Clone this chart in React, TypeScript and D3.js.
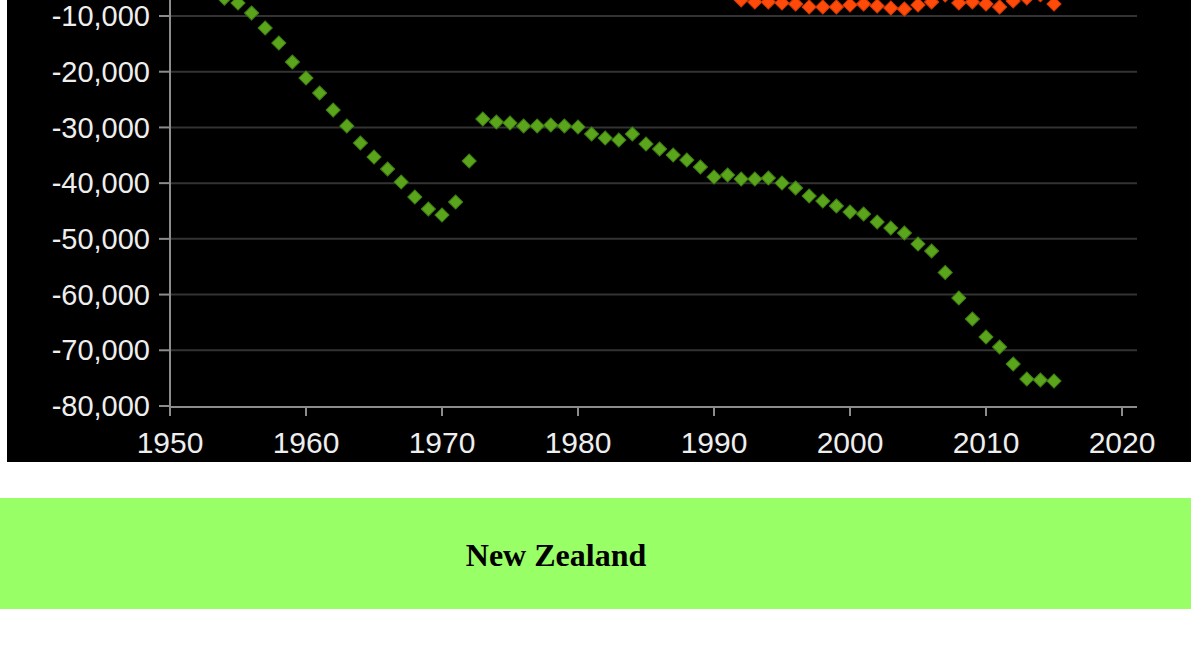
import React from "react";
import * as d3 from "d3";

const yTicks = [-10000, -20000, -30000, -40000, -50000, -60000, -70000, -80000];
const xTicks = [1950, 1960, 1970, 1980, 1990, 2000, 2010, 2020];

const greenYears = [
  1954, 1955, 1956, 1957, 1958, 1959, 1960, 1961, 1962, 1963, 1964, 1965, 1966, 1967, 1968, 1969,
  1970, 1971, 1972, 1973, 1974, 1975, 1976, 1977, 1978, 1979, 1980, 1981, 1982, 1983, 1984, 1985,
  1986, 1987, 1988, 1989, 1990, 1991, 1992, 1993, 1994, 1995, 1996, 1997, 1998, 1999, 2000, 2001,
  2002, 2003, 2004, 2005, 2006, 2007, 2008, 2009, 2010, 2011, 2012, 2013, 2014, 2015,
];
const greenValues = [
  -6800, -7670, -9460, -12150, -14850, -18260, -21130, -23820, -26870, -29740, -32800, -35310, -37460, -39800, -42490, -44640,
  -45720, -43390, -36030, -28490, -29030, -29210, -29740, -29740, -29560, -29740, -29920, -31180, -31900, -32260, -31180, -32980,
  -33870, -34950, -35850, -37100, -38900, -38540, -39260, -39260, -39080, -39980, -40870, -42310, -43210, -44110, -45180, -45540,
  -46980, -48050, -48950, -50930, -52180, -56030, -60620, -64390, -67620, -69410, -72470, -75160, -75340, -75520,
];

const orangeYears = [
  1992, 1993, 1994, 1995, 1996, 1997, 1998, 1999, 2000, 2001, 2002, 2003, 2004, 2005, 2006, 2007,
  2008, 2009, 2010, 2011, 2012, 2013, 2014, 2015,
];
const orangeValues = [
  -7130, -7490, -7490, -7670, -7850, -8380, -8380, -8380, -8030, -7850, -8210, -8560, -8740, -8030, -7490, -6230,
  -7670, -7490, -7850, -8380, -7310, -6770, -6200, -7850,
];

const title = "New Zealand";

export default function App() {
  const x = d3.scaleLinear().domain([1950, 2020]).range([170, 1122]);
  const y = d3.scaleLinear().domain([-80000, -10000]).range([406, 16]);
  const fmt = d3.format(",");
  const diamond = d3.symbol().type(d3.symbolSquare).size(100)() as string;

  const green = greenYears.map((yr, i) => ({ yr, v: greenValues[i] }));
  const orange = orangeYears.map((yr, i) => ({ yr, v: orangeValues[i] }));

  const labelFont = "'Liberation Sans', Arial, sans-serif";

  return (
    <svg
      width={1191}
      height={653}
      style={{ position: "absolute", left: 0, top: 0, display: "block" }}
    >
      <rect x={0} y={0} width={1191} height={653} fill="#ffffff" />
      <rect x={7} y={0} width={1184} height={462} fill="#000000" />

      {/* grid lines */}
      {yTicks
        .filter((t) => t !== -80000)
        .map((t) => (
          <line key={"g" + t} x1={170} x2={1137} y1={y(t)} y2={y(t)} stroke="#333333" strokeWidth={2} />
        ))}

      {/* y axis */}
      <line x1={170} x2={170} y1={0} y2={y(-80000) + 1} stroke="#8c8c8c" strokeWidth={2} />
      {yTicks.map((t) => (
        <g key={"yt" + t}>
          <line x1={159} x2={170} y1={y(t)} y2={y(t)} stroke="#8c8c8c" strokeWidth={2} />
          <text
            x={150}
            y={y(t)}
            dy="0.35em"
            textAnchor="end"
            fill="#eeeeee"
            fontFamily={labelFont}
            fontSize={29}
          >
            {fmt(t).replace("−", "-")}
          </text>
        </g>
      ))}

      {/* x axis */}
      <line x1={169} x2={1137} y1={y(-80000) + 1} y2={y(-80000) + 1} stroke="#8c8c8c" strokeWidth={2} />
      {xTicks.map((t) => (
        <g key={"xt" + t}>
          <line x1={x(t)} x2={x(t)} y1={y(-80000)} y2={y(-80000) + 10} stroke="#8c8c8c" strokeWidth={2} />
          <text
            x={x(t)}
            y={453}
            textAnchor="middle"
            fill="#eeeeee"
            fontFamily={labelFont}
            fontSize={30}
          >
            {t}
          </text>
        </g>
      ))}

      {/* series */}
      {orange.map((d) => (
        <path
          key={"o" + d.yr}
          d={diamond}
          transform={`translate(${x(d.yr)},${y(d.v)}) rotate(45)`}
          fill="#ff4a0a"
          stroke="#d83a05"
          strokeWidth={1}
        />
      ))}
      {green.map((d) => (
        <path
          key={"gr" + d.yr}
          d={diamond}
          transform={`translate(${x(d.yr)},${y(d.v)}) rotate(45)`}
          fill="#5aa51c"
          stroke="#3f7f12"
          strokeWidth={1}
        />
      ))}

      {/* title band */}
      <rect x={0} y={498} width={1191} height={111} fill="#99ff66" />
      <text
        x={556}
        y={566}
        textAnchor="middle"
        fontFamily="'Liberation Serif', 'Times New Roman', serif"
        fontWeight="bold"
        fontSize={32}
        fill="#000000"
      >
        {title}
      </text>
    </svg>
  );
}
